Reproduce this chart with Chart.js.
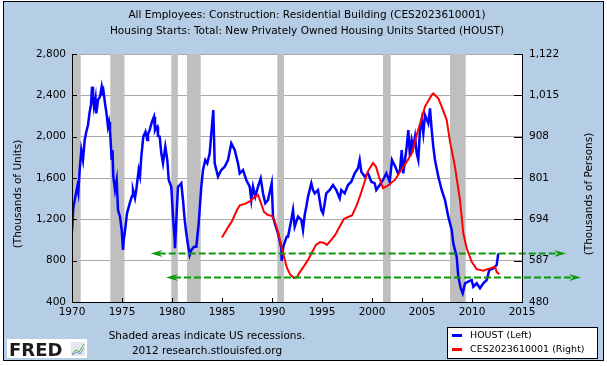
<!DOCTYPE html>
<html lang="en">
<head>
<meta charset="UTF-8">
<title>Housing Starts vs Residential Building Employment</title>
<script src="https://cdn.jsdelivr.net/npm/chart.js@4.4.0/dist/chart.umd.min.js"></script>
<style>
  html, body { margin: 0; padding: 0; background: #fff; }
  #wrap { width: 607px; height: 366px; }
</style>
</head>
<body>
<div id="wrap"><canvas id="fredChart" width="607" height="366"></canvas></div>
<script>
// HOUST, thousands of units (left axis)
const houstDates = [
  1970.00, 1970.13, 1970.33, 1970.53, 1970.63, 1970.77, 1970.93, 1971.10, 1971.27, 1971.43,
  1971.60, 1971.77, 1971.90, 1972.00, 1972.10, 1972.20, 1972.35, 1972.43, 1972.60, 1972.80,
  1972.97, 1973.05, 1973.13, 1973.30, 1973.45, 1973.60, 1973.70, 1973.80, 1973.97, 1974.05,
  1974.13, 1974.30, 1974.47, 1974.60, 1974.80, 1974.97, 1975.10, 1975.17, 1975.27, 1975.50,
  1975.77, 1976.00, 1976.10, 1976.30, 1976.45, 1976.67, 1976.80, 1976.93, 1977.10, 1977.13,
  1977.35, 1977.53, 1977.60, 1977.77, 1978.00, 1978.20, 1978.30, 1978.37, 1978.53, 1978.60,
  1978.77, 1978.93, 1979.10, 1979.33, 1979.53, 1979.67, 1979.93, 1980.10, 1980.27, 1980.30,
  1980.43, 1980.60, 1980.77, 1980.93, 1981.10, 1981.27, 1981.43, 1981.60, 1981.77, 1981.93,
  1982.20, 1982.43, 1982.67, 1982.93, 1983.10, 1983.33, 1983.53, 1983.77, 1983.93, 1984.13,
  1984.27, 1984.60, 1984.93, 1985.27, 1985.60, 1985.93, 1986.27, 1986.60, 1986.77, 1987.10,
  1987.43, 1987.77, 1987.93, 1988.10, 1988.33, 1988.60, 1988.87, 1989.10, 1989.33, 1989.60,
  1989.97, 1990.10, 1990.27, 1990.60, 1990.93, 1990.97, 1991.13, 1991.47, 1991.60, 1991.93,
  1992.10, 1992.27, 1992.60, 1992.93, 1993.10, 1993.27, 1993.43, 1993.60, 1993.93, 1994.10,
  1994.27, 1994.60, 1994.93, 1995.10, 1995.27, 1995.43, 1995.77, 1996.10, 1996.43, 1996.77,
  1996.93, 1997.27, 1997.60, 1997.93, 1998.27, 1998.60, 1998.77, 1998.93, 1999.27, 1999.60,
  1999.93, 2000.27, 2000.43, 2000.77, 2001.10, 2001.43, 2001.77, 2002.00, 2002.33, 2002.60,
  2002.80, 2002.97, 2003.13, 2003.47, 2003.63, 2003.80, 2003.97, 2004.13, 2004.30, 2004.47,
  2004.63, 2004.80, 2004.97, 2005.13, 2005.30, 2005.63, 2005.80, 2005.97, 2006.13, 2006.30,
  2006.63, 2006.97, 2007.30, 2007.63, 2007.97, 2008.13, 2008.47, 2008.63, 2008.87, 2009.07,
  2009.30, 2009.63, 2009.97, 2010.13, 2010.47, 2010.80, 2011.13, 2011.47, 2011.73, 2012.13,
  2012.47, 2012.63
];
const houstValues = [
  1090, 1310, 1419, 1516, 1460, 1677, 1871, 1774, 1968, 2048,
  2113, 2242, 2306, 2483, 2393, 2290, 2374, 2226, 2355, 2387,
  2483, 2432, 2452, 2323, 2226, 2096, 2142, 2064, 1774, 1871,
  1612, 1484, 1581, 1290, 1225, 1097, 903, 1000, 1065, 1258,
  1355, 1426, 1484, 1406, 1503, 1677, 1619, 1806, 1968, 2000,
  2048, 1968, 2026, 2065, 2145, 2193, 2065, 2081, 2097, 2006,
  2000, 1839, 1742, 1903, 1774, 1581, 1516, 1226, 1000, 920,
  1194, 1516, 1532, 1549, 1387, 1194, 1065, 952, 855, 903,
  935, 935, 1162, 1516, 1677, 1774, 1742, 1839, 2032, 2258,
  1742, 1613, 1677, 1709, 1774, 1936, 1871, 1742, 1645, 1677,
  1581, 1516, 1387, 1516, 1419, 1516, 1597, 1452, 1355, 1387,
  1549, 1226, 1162, 1065, 920, 798, 935, 1032, 1032, 1194,
  1290, 1129, 1226, 1194, 1097, 1242, 1322, 1419, 1549, 1484,
  1452, 1484, 1290, 1258, 1355, 1452, 1484, 1532, 1484, 1403,
  1484, 1452, 1532, 1564, 1645, 1694, 1774, 1661, 1613, 1645,
  1564, 1549, 1484, 1532, 1581, 1645, 1564, 1774, 1709, 1645,
  1677, 1871, 1645, 1903, 2064, 1806, 1968, 1903, 2000, 1839,
  1774, 2064, 2161, 2032, 2210, 2129, 2274, 2064, 1903, 1774,
  1613, 1484, 1387, 1226, 1097, 968, 838, 645, 533, 484,
  581, 597, 613, 548, 581, 533, 581, 613, 710, 726,
  758, 871
];

// CES2023610001, thousands of persons (right axis)
const cesDates = [
  1985.00, 1985.50, 1985.97, 1986.50, 1986.80, 1987.30, 1987.80, 1988.30, 1988.60, 1988.90,
  1989.20, 1989.60, 1990.00, 1990.30, 1990.60, 1990.90, 1991.20, 1991.50, 1991.80, 1992.20,
  1992.50, 1992.80, 1993.20, 1993.60, 1994.00, 1994.40, 1994.80, 1995.20, 1995.50, 1995.90,
  1996.30, 1996.80, 1997.20, 1997.60, 1998.00, 1998.40, 1998.80, 1999.20, 1999.60, 2000.10,
  2000.40, 2000.70, 2001.10, 2001.50, 2001.90, 2002.30, 2002.80, 2003.47, 2004.00, 2004.47,
  2004.87, 2005.30, 2005.97, 2006.13, 2006.63, 2006.97, 2007.47, 2007.80, 2008.30, 2008.80,
  2009.13, 2009.47, 2009.97, 2010.47, 2011.13, 2011.80, 2012.30, 2012.47, 2012.73
];
const cesValues = [
  647, 669, 688, 718, 731, 734, 741, 753, 757, 736,
  713, 705, 703, 687, 661, 628, 597, 568, 552, 542,
  545, 558, 573, 589, 609, 628, 635, 633, 628, 640,
  653, 677, 695, 700, 704, 726, 754, 786, 819, 840,
  830, 804, 775, 780, 788, 796, 817, 843, 866, 912,
  947, 986, 1016, 1020, 1007, 986, 951, 895, 830, 744,
  658, 619, 584, 565, 561, 567, 571, 558, 552
];

const recessionStarts = [1969.92, 1973.83, 1979.93, 1981.50, 1990.53, 2001.10, 2007.80];
const recessionEnds   = [1970.87, 1975.25, 1980.58, 1982.87, 1991.20, 2001.87, 2009.37];

const yearTicks  = [1970, 1975, 1980, 1985, 1990, 1995, 2000, 2005, 2010, 2015];
const leftTicks  = [400, 800, 1200, 1600, 2000, 2400, 2800];
const rightTicks = [480, 587, 694, 801, 908, 1015, 1122];

// dashed green guide levels (left axis units) and their x extent in years
const guideLevels = [877, 642];
const guideFrom   = [1977.87, 1979.40];
const guideTo     = [2019.40, 2020.90];

const FONT = '"DejaVu Sans", Verdana, sans-serif';
const BG_BLUE = '#b5cde5';

const toPoints = (xs, ys) => xs.map((x, i) => ({ x: x, y: ys[i] }));

const fredDecor = {
  id: 'fredDecor',
  beforeDraw(chart) {
    const { ctx, chartArea: a, width, height } = chart;
    ctx.save();
    ctx.fillStyle = '#fff';
    ctx.fillRect(0, 0, width, height);
    ctx.fillStyle = BG_BLUE;
    ctx.fillRect(3, 1, 601, 360);
    ctx.fillStyle = '#fff';
    ctx.fillRect(a.left, a.top, a.right - a.left, a.bottom - a.top);
    ctx.restore();
  },
  beforeDatasetsDraw(chart) {
    const { ctx, chartArea: a } = chart;
    const xs = chart.scales.x;
    ctx.save();
    ctx.beginPath();
    ctx.rect(a.left, a.top, a.right - a.left, a.bottom - a.top);
    ctx.clip();
    ctx.fillStyle = '#bfbfbf';
    recessionStarts.forEach((s, i) => {
      const x1 = xs.getPixelForValue(s);
      const x2 = xs.getPixelForValue(recessionEnds[i]);
      ctx.fillRect(x1, a.top, x2 - x1, a.bottom - a.top);
    });
    ctx.restore();
  },
  afterDatasetsDraw(chart) {
    const { ctx, chartArea: a } = chart;
    const xs = chart.scales.x, yl = chart.scales.yLeft, yr = chart.scales.yRight;
    ctx.save();

    // green guides with arrowheads
    ctx.strokeStyle = '#0a9a0a';
    ctx.fillStyle = '#0a9a0a';
    guideLevels.forEach((lv, i) => {
      const y = Math.round(yl.getPixelForValue(lv)) + 0.5;
      const x1 = xs.getPixelForValue(guideFrom[i]);
      const x2 = xs.getPixelForValue(guideTo[i]);
      ctx.lineWidth = 2;
      ctx.setLineDash([7, 3]);
      ctx.beginPath();
      ctx.moveTo(x1 + 8, y);
      ctx.lineTo(x2 - 8, y);
      ctx.stroke();
      ctx.setLineDash([]);
      ctx.beginPath();
      ctx.moveTo(x1, y);
      ctx.lineTo(x1 + 12, y - 3.5);
      ctx.lineTo(x1 + 8, y);
      ctx.lineTo(x1 + 12, y + 3.5);
      ctx.closePath();
      ctx.fill();
      ctx.beginPath();
      ctx.moveTo(x2, y);
      ctx.lineTo(x2 - 12, y - 3.5);
      ctx.lineTo(x2 - 8, y);
      ctx.lineTo(x2 - 12, y + 3.5);
      ctx.closePath();
      ctx.fill();
    });

    // axis lines and inside tick marks
    ctx.strokeStyle = '#000';
    ctx.lineWidth = 1;
    ctx.beginPath();
    ctx.moveTo(a.left + 0.5, a.top);
    ctx.lineTo(a.left + 0.5, a.bottom + 0.5);
    ctx.lineTo(a.right + 0.5, a.bottom + 0.5);
    ctx.lineTo(a.right + 0.5, a.top);
    leftTicks.forEach(v => {
      const y = Math.round(yl.getPixelForValue(v)) + 0.5;
      ctx.moveTo(a.left, y);
      ctx.lineTo(a.left + 5, y);
    });
    rightTicks.forEach(v => {
      const y = Math.round(yr.getPixelForValue(v)) + 0.5;
      ctx.moveTo(a.right - 8, y);
      ctx.lineTo(a.right + 1, y);
    });
    yearTicks.forEach(v => {
      const x = Math.round(xs.getPixelForValue(v)) + 0.5;
      ctx.moveTo(x, a.bottom);
      ctx.lineTo(x, a.bottom - 4);
    });
    ctx.stroke();
    ctx.restore();
  },
  afterDraw(chart) {
    const { ctx } = chart;
    ctx.save();
    ctx.fillStyle = '#000';
    ctx.textBaseline = 'middle';

    // titles
    ctx.font = '10.5px ' + FONT;
    ctx.textAlign = 'center';
    ctx.fillText('All Employees: Construction: Residential Building (CES2023610001)', 307, 15.5);
    ctx.fillText('Housing Starts: Total: New Privately Owned Housing Units Started (HOUST)', 307, 31.5);

    // axis titles
    ctx.save();
    ctx.translate(18.5, 194);
    ctx.rotate(-Math.PI / 2);
    ctx.fillText('(Thousands of Units)', 0, 0);
    ctx.restore();
    ctx.save();
    ctx.translate(589, 194);
    ctx.rotate(-Math.PI / 2);
    ctx.fillText('(Thousands of Persons)', 0, 0);
    ctx.restore();

    // footer notes
    ctx.fillText('Shaded areas indicate US recessions.', 207, 336);
    ctx.fillText('2012 research.stlouisfed.org', 207, 351);

    // legend box
    ctx.fillStyle = '#fff';
    ctx.fillRect(447, 327, 151, 32);
    ctx.strokeStyle = '#000';
    ctx.lineWidth = 1;
    ctx.strokeRect(447.5, 327.5, 150, 31);
    ctx.font = '9.5px ' + FONT;
    ctx.textAlign = 'left';
    chart.data.datasets.forEach((ds, i) => {
      const y = 335.5 + i * 14;
      ctx.strokeStyle = ds.borderColor;
      ctx.lineWidth = 3;
      ctx.beginPath();
      ctx.moveTo(452, y);
      ctx.lineTo(462, y);
      ctx.stroke();
      ctx.fillStyle = '#000';
      ctx.fillText(ds.label, 470, y);
    });

    // FRED mark
    ctx.fillStyle = '#fff';
    ctx.fillRect(7, 339, 80, 19);
    ctx.fillStyle = '#1c1c1c';
    ctx.font = 'bold 18px ' + FONT;
    ctx.textBaseline = 'alphabetic';
    ctx.fillText('FRED', 9, 355.5);
    ctx.fillStyle = '#e4e8ec';
    ctx.fillRect(71, 342, 14, 14);
    ctx.lineWidth = 1;
    ctx.strokeStyle = '#5aa85a';
    ctx.beginPath();
    ctx.moveTo(72, 354); ctx.lineTo(76, 350); ctx.lineTo(79, 352); ctx.lineTo(84, 344);
    ctx.stroke();
    ctx.strokeStyle = '#6a8fc8';
    ctx.beginPath();
    ctx.moveTo(72, 355); ctx.lineTo(77, 352); ctx.lineTo(80, 354); ctx.lineTo(84, 348);
    ctx.stroke();

    // outer frame
    ctx.strokeStyle = '#000';
    ctx.lineWidth = 1;
    ctx.strokeRect(3.5, 1.5, 600, 359);
    ctx.restore();
  }
};

const ctx = document.getElementById('fredChart').getContext('2d');
new Chart(ctx, {
  type: 'line',
  data: {
    datasets: [
      {
        label: 'HOUST (Left)',
        data: toPoints(houstDates, houstValues),
        borderColor: '#0000ff',
        borderWidth: 2.5,
        pointRadius: 0,
        tension: 0,
        yAxisID: 'yLeft',
        order: 1
      },
      {
        label: 'CES2023610001 (Right)',
        data: toPoints(cesDates, cesValues),
        borderColor: '#ff0000',
        borderWidth: 2,
        pointRadius: 0,
        tension: 0,
        yAxisID: 'yRight',
        order: 0
      }
    ]
  },
  options: {
    responsive: false,
    animation: false,
    devicePixelRatio: 1,
    parsing: false,
    layout: { padding: { top: 54, left: 0, right: 0, bottom: 0 } },
    plugins: {
      legend: { display: false },
      title: { display: false },
      tooltip: { enabled: false }
    },
    scales: {
      x: {
        type: 'linear',
        min: 1970,
        max: 2015,
        afterBuildTicks: s => { s.ticks = yearTicks.map(v => ({ value: v })); },
        afterFit: s => { s.height = 64; },
        grid: { display: false, drawTicks: false },
        border: { display: false },
        ticks: {
          color: '#000',
          padding: 4,
          maxRotation: 0,
          autoSkip: false,
          font: { family: FONT, size: 10.5 },
          callback: v => String(v)
        }
      },
      yLeft: {
        type: 'linear',
        position: 'left',
        min: 400,
        max: 2800,
        afterBuildTicks: s => { s.ticks = leftTicks.map(v => ({ value: v })); },
        afterFit: s => { s.width = 72; },
        grid: { color: '#a9a9a9', lineWidth: 1, drawTicks: false },
        border: { display: false },
        ticks: {
          color: '#000',
          padding: 6,
          font: { family: FONT, size: 10.5 },
          callback: v => v.toLocaleString('en-US')
        }
      },
      yRight: {
        type: 'linear',
        position: 'right',
        min: 480,
        max: 1122,
        afterBuildTicks: s => { s.ticks = rightTicks.map(v => ({ value: v })); },
        afterFit: s => { s.width = 85; },
        grid: { display: false, drawTicks: false },
        border: { display: false },
        ticks: {
          color: '#000',
          padding: 7,
          font: { family: FONT, size: 10.5 },
          callback: v => v.toLocaleString('en-US')
        }
      }
    }
  },
  plugins: [fredDecor]
});
</script>
</body>
</html>
